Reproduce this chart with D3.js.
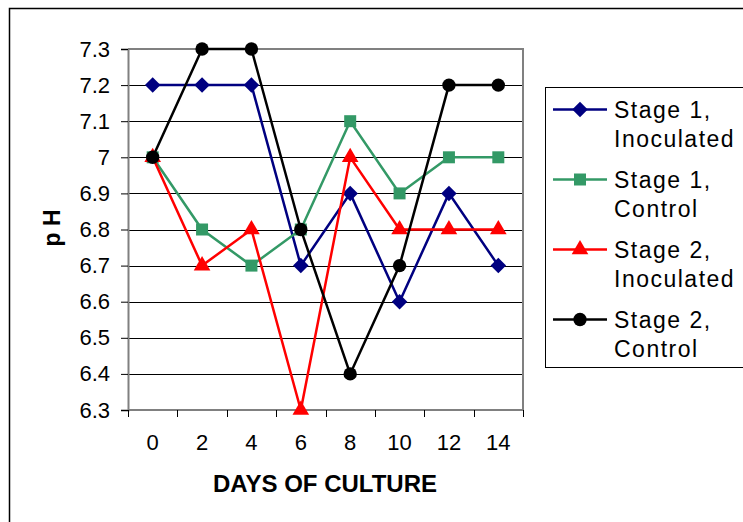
<!DOCTYPE html>
<html>
<head>
<meta charset="utf-8">
<script src="https://cdn.jsdelivr.net/npm/d3@7"></script>
<style>
  body { margin: 0; background: #fff; }
  text { font-family: "Liberation Sans", Arial, sans-serif; }
</style>
</head>
<body>
<div id="chart"></div>
<script>
// chart data
const days = ['0', '2', '4', '6', '8', '10', '12', '14'];
const stage1Inoculated = [7.2, 7.2, 7.2, 6.7, 6.9, 6.6, 6.9, 6.7];
const stage1Control = [7.0, 6.8, 6.7, 6.8, 7.1, 6.9, 7.0, 7.0];
const stage2Inoculated = [7.0, 6.7, 6.8, 6.3, 7.0, 6.8, 6.8, 6.8];
const stage2Control = [7.0, 7.3, 7.3, 6.8, 6.4, 6.7, 7.2, 7.2];
const yTicks = [6.3, 6.4, 6.5, 6.6, 6.7, 6.8, 6.9, 7, 7.1, 7.2, 7.3];

const series = [
  { name: ['Stage 1,', 'Inoculated'], values: stage1Inoculated, color: '#000080', shape: 'diamond' },
  { name: ['Stage 1,', 'Control'], values: stage1Control, color: '#339966', shape: 'square' },
  { name: ['Stage 2,', 'Inoculated'], values: stage2Inoculated, color: '#ff0000', shape: 'triangle' },
  { name: ['Stage 2,', 'Control'], values: stage2Control, color: '#000000', shape: 'circle' }
];

const width = 743, height = 522;
const plot = { left: 128, right: 523, top: 49, bottom: 410 };

const svg = d3.select('#chart').append('svg')
  .attr('width', width)
  .attr('height', height);

// outer chart frame
svg.append('rect')
  .attr('x', 9.5).attr('y', 8.5)
  .attr('width', 800).attr('height', 600)
  .attr('fill', 'none').attr('stroke', '#000').attr('stroke-width', 1.5);

const x = d3.scaleBand().domain(days).range([plot.left, plot.right]);
const y = d3.scaleLinear().domain([6.3, 7.3]).range([plot.bottom, plot.top]);

// gridlines
svg.append('g')
  .selectAll('line')
  .data(yTicks.slice(1, -1))
  .join('line')
  .attr('x1', plot.left).attr('x2', plot.right)
  .attr('y1', d => Math.round(y(d)) + 0.5).attr('y2', d => Math.round(y(d)) + 0.5)
  .attr('stroke', '#000').attr('stroke-width', 1);

// plot frame top/right
svg.append('path')
  .attr('d', `M${plot.left},${plot.top}H${plot.right}V${plot.bottom}`)
  .attr('fill', 'none').attr('stroke', '#808080').attr('stroke-width', 2);

// y axis
const yAxis = svg.append('g')
  .attr('transform', `translate(${plot.left},0)`)
  .call(d3.axisLeft(y).tickValues(yTicks).tickSize(7).tickPadding(11)
    .tickFormat(d => d3.format('')(+d.toFixed(1))));
yAxis.select('.domain').attr('stroke', '#808080').attr('stroke-width', 2);
yAxis.selectAll('.tick line').attr('stroke', '#000');
yAxis.selectAll('text').attr('font-size', 22).attr('fill', '#000');

// x axis, ticks between categories
const xAxis = svg.append('g')
  .attr('transform', `translate(0,${plot.bottom})`);
xAxis.append('line')
  .attr('x1', plot.left).attr('x2', plot.right)
  .attr('stroke', '#808080').attr('stroke-width', 2);
const bounds = days.map(d => x(d)).concat([plot.right]);
xAxis.selectAll('line.tk')
  .data(bounds)
  .join('line')
  .attr('class', 'tk')
  .attr('x1', d => Math.round(d) + 0.5).attr('x2', d => Math.round(d) + 0.5)
  .attr('y1', 0).attr('y2', 7)
  .attr('stroke', '#000');
xAxis.selectAll('text')
  .data(days)
  .join('text')
  .attr('x', d => x(d) + x.bandwidth() / 2)
  .attr('y', 40)
  .attr('text-anchor', 'middle')
  .attr('font-size', 22)
  .text(d => d);

// axis titles
svg.append('text')
  .attr('x', 325).attr('y', 492)
  .attr('text-anchor', 'middle')
  .attr('font-size', 24).attr('font-weight', 'bold')
  .text('DAYS OF CULTURE');
svg.append('text')
  .attr('transform', 'translate(60,228) rotate(-90)')
  .attr('text-anchor', 'middle')
  .attr('font-size', 23).attr('font-weight', 'bold')
  .text('p H');

// marker shapes
const diamond = {
  draw(ctx, size) {
    const r = Math.sqrt(size / 2);
    ctx.moveTo(0, -r);
    ctx.lineTo(r, 0);
    ctx.lineTo(0, r);
    ctx.lineTo(-r, 0);
    ctx.closePath();
  }
};
const symbolType = {
  diamond: diamond,
  square: d3.symbolSquare,
  triangle: d3.symbolTriangle,
  circle: d3.symbolCircle
};
const symbolSize = { diamond: 120, square: 144, triangle: 120, circle: 140 };

function marker(sel, s) {
  return sel.append('path')
    .attr('d', d3.symbol().type(symbolType[s.shape]).size(symbolSize[s.shape])())
    .attr('fill', s.color);
}

const cx = i => x(days[i]) + x.bandwidth() / 2;
const line = d3.line().x((d, i) => cx(i)).y(d => y(d));

series.forEach(s => {
  const g = svg.append('g');
  g.append('path')
    .datum(s.values)
    .attr('d', line)
    .attr('fill', 'none')
    .attr('stroke', s.color)
    .attr('stroke-width', 2.5);
  s.values.forEach((v, i) => {
    marker(g, s).attr('transform', `translate(${cx(i)},${y(v)})`);
  });
});

// legend
const legend = svg.append('g');
legend.append('rect')
  .attr('x', 545.5).attr('y', 87.5)
  .attr('width', 220).attr('height', 280)
  .attr('fill', '#fff').attr('stroke', '#000').attr('stroke-width', 1);
series.forEach((s, i) => {
  const ly = 109.5 + i * 70;
  const g = legend.append('g');
  g.append('line')
    .attr('x1', 553).attr('x2', 607)
    .attr('y1', ly).attr('y2', ly)
    .attr('stroke', s.color).attr('stroke-width', 2.5);
  marker(g, s).attr('transform', `translate(580,${ly})`);
  s.name.forEach((t, j) => {
    g.append('text')
      .attr('x', 614).attr('y', ly + 8.5 + j * 29)
      .attr('font-size', 23)
      .attr('letter-spacing', 1.5)
      .text(t);
  });
});
</script>
</body>
</html>
